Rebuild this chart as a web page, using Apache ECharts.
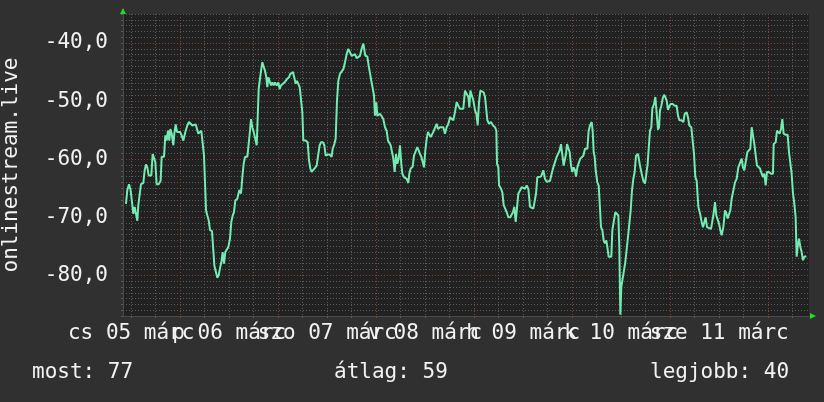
<!DOCTYPE html>
<html>
<head>
<meta charset="utf-8">
<script src="https://cdn.jsdelivr.net/npm/echarts@6/dist/echarts.min.js"></script>
<style>
  html, body { margin: 0; padding: 0; background: #303030; }
  #chart { width: 824px; height: 402px; }
</style>
</head>
<body>
<div id="chart"></div>
<script>
// Signal level over one week, hours counted from 05 March 00:00.
const timeH = [
  10.73, 11.06, 11.47, 11.88, 12.20, 12.53, 12.86, 13.10, 13.51, 13.75,
  14.16, 14.41, 14.98, 15.31, 15.63, 15.96, 16.29, 16.94, 17.26, 17.59,
  17.92, 18.24, 18.73, 19.22, 19.47, 20.04, 20.37, 20.69, 21.02, 21.35,
  21.59, 21.92, 22.33, 22.57, 22.90, 23.22, 23.55, 23.96, 24.37, 24.77,
  25.02, 25.35, 25.75, 26.16, 26.57, 26.98, 27.39, 27.79, 28.20, 28.45,
  28.86, 29.18, 29.51, 29.84, 30.16, 30.33, 30.65, 30.98, 31.31, 31.80,
  32.12, 32.37, 32.69, 33.10, 33.43, 33.75, 34.16, 34.41, 34.73, 35.06,
  35.39, 35.80, 36.20, 36.53, 36.86, 37.18, 37.51, 38.00,
  38.25, 38.49, 38.90, 39.23, 39.55, 39.88, 40.45, 40.86, 41.10, 41.35,
  41.67, 42.00, 42.33, 42.74, 42.98, 43.23, 43.47, 43.80, 44.12, 44.45,
  44.78, 45.10, 45.35, 45.59, 45.92, 46.25, 46.57, 46.90, 47.23, 47.63,
  48.04, 48.37, 48.69, 49.10, 49.51, 49.84, 50.16, 50.65, 50.98, 51.31,
  51.63, 51.96, 52.29, 52.61, 52.94, 53.27, 53.59, 53.92, 54.16, 54.74,
  55.23, 55.55, 55.88, 56.20, 56.53, 57.02, 57.43, 57.84, 58.16, 58.49,
  58.98, 59.31, 59.63, 60.12, 60.61, 61.10, 61.35, 61.76, 62.08, 62.41,
  62.74, 63.14, 63.55, 63.96, 64.37, 64.78, 65.18,
  65.59, 66.00, 66.41, 66.81, 67.22, 67.63, 68.04, 68.45, 68.86, 69.10,
  69.34, 69.83, 70.16, 70.49, 70.81, 71.14, 71.47, 71.71, 72.04, 72.28,
  72.61, 72.94, 73.43, 73.75, 74.16, 74.57, 74.90, 75.22, 75.55, 75.96,
  76.20, 76.53, 76.85, 77.18, 77.51, 77.83, 78.16, 78.41, 78.81, 79.14,
  79.47, 79.88, 80.12, 80.45, 80.94, 81.26, 81.67, 82.08, 82.41, 82.73,
  83.06, 83.39, 83.71, 84.04, 84.37, 84.69, 85.02, 85.35, 85.67, 86.00,
  86.41, 86.81, 87.14, 87.63, 88.04, 88.45, 88.85, 89.26, 89.67, 90.08,
  90.49, 90.90, 91.30, 91.71, 92.12, 92.53, 92.94, 93.35, 93.75,
  94.17, 94.58, 94.82, 95.07, 95.39, 95.80, 96.21, 96.54, 96.86, 97.19,
  97.52, 98.00, 98.33, 98.66, 98.98, 99.23, 99.64, 100.13, 100.62, 101.11,
  101.43, 101.60, 101.92, 102.09, 102.58, 102.90, 103.23, 103.56, 103.96, 104.37,
  104.86, 105.19, 105.51, 105.84, 106.17, 106.49, 106.82, 107.23, 107.64, 108.05,
  108.45, 108.86, 109.27, 109.68, 110.09, 110.49, 110.90, 111.15, 111.47, 111.88,
  112.37, 112.70, 112.94, 113.35, 113.76, 114.17, 114.58, 114.98, 115.39, 115.80,
  116.21, 116.62, 116.94, 117.27, 117.60, 117.92, 118.25, 118.49, 118.74, 119.07,
  119.39, 119.72, 120.04, 120.37, 120.70, 120.94, 121.27, 121.68, 122.00,
  122.41, 122.74, 123.14, 123.72, 124.04, 124.37, 124.78, 125.02, 125.27, 125.51,
  125.76, 126.16, 126.49, 126.82, 127.06, 127.39, 127.72, 128.04, 128.37, 128.61,
  128.94, 129.27, 129.59, 129.84, 130.25, 130.57, 130.90, 131.31, 131.55, 131.80,
  132.04, 132.37, 132.70, 133.02, 133.35, 133.67, 134.00, 134.33, 134.65, 134.98,
  135.31, 135.63, 136.12, 136.45, 136.61, 137.02, 137.43, 137.84, 138.25, 138.49,
  138.74, 139.06, 139.39, 139.63, 140.04, 140.37, 140.70, 141.02, 141.27, 141.51,
  141.84, 142.16, 142.49, 142.82, 143.14, 143.47, 143.80, 144.12, 144.61, 145.10,
  145.59, 145.92, 146.25, 146.74, 147.23, 147.55, 148.04, 148.37, 148.69, 149.18,
  149.51, 149.84, 150.16, 150.49,
  150.90, 151.30, 151.71, 152.04, 152.37, 152.69, 153.02, 153.35, 154.00, 154.32,
  154.57, 154.98, 155.30, 155.63, 155.96, 156.28, 156.61, 157.02, 157.43, 157.75,
  158.08, 158.41, 158.73, 159.06, 159.47, 159.88, 160.28, 160.69, 161.10, 161.51,
  161.83, 162.16, 162.57, 162.90, 163.30, 163.63, 163.96, 164.28, 164.61, 164.94,
  165.26, 165.59, 166.00, 166.41, 166.73, 167.06, 167.39, 167.71, 168.20, 168.69,
  169.18, 169.35, 169.84, 170.16, 170.49, 170.81, 171.14, 171.47, 171.79, 172.28,
  172.77, 173.10, 173.43, 173.75, 174.08, 174.41, 174.73, 174.98, 175.22, 175.55,
  175.88, 176.20, 176.53, 176.86, 177.35
];

const signalDb = [
  -67.7, -65.3, -64.3, -65.4, -65.7, -69.4, -68.2, -69.1, -70.6, -67.9,
  -67.7, -64.3, -64.1, -61.9, -60.9, -61.4, -62.8, -62.8, -59.1, -59.1,
  -60.5, -64.3, -64.3, -63.7, -59.6, -59.6, -55.9, -56.8, -55.1, -56.8,
  -54.8, -55.6, -57.6, -55.6, -54.0, -55.3, -55.6, -55.3, -55.9, -56.8,
  -57.1, -55.1, -54.2, -53.6, -53.8, -54.2, -53.9, -54.0, -53.8, -55.6,
  -55.3, -55.1, -55.3, -59.4, -59.6, -68.8, -69.7, -70.5, -72.2, -72.4,
  -75.7, -78.3, -78.3, -80.4, -80.0, -78.8, -77.4, -76.0, -78.0, -76.0,
  -75.7, -75.1, -73.7, -70.8, -69.7, -69.1, -67.1, -66.8,
  -66.8, -65.3, -65.9, -63.1, -60.8, -59.6, -59.6, -56.8, -55.1, -53.1,
  -54.5, -55.3, -55.6, -57.6, -57.4, -47.9, -47.6, -44.8, -43.3, -43.3,
  -44.8, -45.9, -47.6, -45.9, -45.6, -47.3, -46.8, -47.3, -46.8, -47.3,
  -46.8, -47.9, -47.3, -47.0, -46.8, -46.8, -46.2, -45.9, -45.3, -45.6,
  -45.0, -45.0, -47.0, -46.5, -46.5, -47.6, -47.9, -51.9, -56.8, -56.8,
  -57.1, -60.2, -61.6, -62.2, -61.9, -61.5, -61.1, -59.1, -57.6, -57.1,
  -57.1, -57.6, -59.4, -59.2, -59.2, -59.6, -58.2, -57.4, -56.5, -49.9,
  -46.5, -45.3, -45.0, -44.5, -43.3, -41.9, -41.0,
  -40.7, -42.2, -42.2, -41.9, -42.6, -42.5, -42.2, -41.0, -40.1, -40.2,
  -42.2, -42.3, -43.9, -44.2, -46.5, -46.5, -49.0, -52.5, -50.2, -52.5,
  -52.5, -52.2, -52.7, -53.1, -54.5, -55.1, -56.8, -57.1, -57.6, -57.9,
  -59.9, -62.2, -59.1, -60.8, -59.9, -57.6, -60.8, -62.5, -63.1, -62.8,
  -63.4, -64.1, -62.5, -61.6, -61.3, -59.4, -59.1, -57.9, -57.6, -59.1,
  -59.6, -60.5, -61.4, -58.5, -56.5, -55.3, -55.1, -56.2, -56.2, -55.3,
  -55.1, -53.9, -54.8, -54.5, -54.5, -54.5, -55.6, -54.5, -53.9, -52.8,
  -52.5, -53.3, -51.9, -50.2, -50.8, -51.3, -51.3, -51.3, -48.2,
  -48.5, -49.3, -51.1, -48.2, -48.2, -49.9, -51.6, -52.2, -54.2, -50.2,
  -48.2, -48.1, -48.5, -49.3, -49.6, -53.3, -53.9, -53.6, -54.2, -54.5,
  -55.1, -60.8, -61.4, -64.5, -65.1, -65.7, -67.9, -68.2, -69.1, -70.0,
  -70.0, -69.7, -69.1, -68.2, -70.8, -70.8, -65.9, -65.4, -64.8, -64.5,
  -65.1, -64.5, -65.1, -68.2, -68.2, -68.5, -68.5, -65.9, -63.1, -63.0,
  -63.0, -62.8, -61.9, -63.4, -63.9, -63.9, -63.7, -62.5, -61.4, -60.5,
  -59.6, -59.4, -58.5, -57.4, -57.4, -61.1, -61.4, -59.1, -57.4, -57.6,
  -58.8, -61.1, -62.2, -61.4, -61.9, -63.0, -61.4, -60.5, -59.9,
  -60.2, -59.4, -58.2, -58.2, -55.1, -54.2, -53.6, -55.1, -58.8, -59.6,
  -61.9, -64.0, -64.5, -68.5, -71.7, -72.2, -74.0, -74.5, -74.0, -75.1,
  -76.8, -77.1, -76.8, -72.2, -71.9, -69.1, -69.1, -69.7, -75.1, -86.8,
  -82.0, -81.7, -79.1, -77.7, -77.4, -73.4, -71.1, -68.8, -65.4, -63.4,
  -62.2, -59.4, -59.1, -59.4, -61.1, -62.5, -63.7, -64.2, -64.5, -60.8,
  -58.2, -55.1, -54.5, -51.3, -50.5, -49.3, -49.2, -54.9, -54.5, -51.6,
  -50.8, -49.6, -48.9, -49.3, -49.9, -51.5, -50.9, -50.5, -50.5, -50.8,
  -50.8, -52.5, -53.3, -53.3, -53.6, -52.2, -51.9, -52.8, -54.2, -54.5,
  -56.8, -59.1, -63.1, -63.7,
  -68.2, -69.3, -70.8, -71.7, -71.7, -70.0, -71.7, -72.0, -72.0, -72.0,
  -69.7, -67.4, -69.7, -70.0, -71.1, -72.2, -73.1, -71.7, -68.8, -69.3,
  -70.2, -70.2, -68.8, -66.8, -66.8, -64.0, -63.4, -61.4, -61.1, -59.9,
  -61.4, -61.9, -61.9, -58.8, -58.8, -58.2, -54.5, -54.8, -57.4, -57.6,
  -61.1, -61.4, -61.6, -62.5, -63.1, -62.5, -64.5, -62.2, -62.2, -62.5,
  -62.5, -57.4, -57.1, -55.1, -55.1, -55.6, -54.8, -53.1, -55.6, -55.8,
  -55.8, -58.8, -59.1, -62.5, -65.9, -67.7, -70.0, -76.8, -75.1, -73.7,
  -75.1, -76.0, -77.4, -76.8, -76.7
];

// Day labels, centred on noon of each day
const dayNoonH = [12, 36, 60, 84, 108, 132, 156];
const dayLabels = ['cs 05 márc', 'p 06 márc', 'szo 07 márc', 'v 08 márc', 'h 09 márc', 'k 10 márc', 'sze 11 márc'];

// Summary line under the graph
const summaryNames = ['most', 'átlag', 'legjobb'];
const summaryValues = [77, 59, 40];

const X_MIN = 10, X_MAX = 178;
const Y_MIN = -87, Y_MAX = -35;

const FONT = '"DejaVu Sans Mono", monospace';
const TEXT = '#f2f2f2';
const MINOR = '#5c5c5c';
const MAJOR = '#86403f';
const ARROW = '#22dd22';

// Hourly / unit categories used only to place grid lines, ticks and labels
const hourCats = [];
for (let h = X_MIN; h <= X_MAX; h++) hourCats.push(String(h));
const dbCats = [];
for (let d = Y_MIN; d <= Y_MAX; d++) dbCats.push(String(d));

const isMinorHour = (i, v) => { const h = Number(v); return h % 6 === 0 && h % 24 !== 0; };
const isDayStart = (i, v) => Number(v) % 24 === 0;
const isDecade = (i, v) => Number(v) % 10 === 0;
// Day labels are long enough to collide with their neighbours, so alternate
// days go on two separate label axes and every one of them is still drawn.
const noonOfDay = (parity) => (i, v) => {
  const k = dayNoonH.indexOf(Number(v));
  return k >= 0 && k % 2 === parity;
};
const dayLabelText = v => { const k = dayNoonH.indexOf(Number(v)); return k < 0 ? '' : dayLabels[k]; };

const labelAxis = (parity) => ({
  type: 'category', data: hourCats, boundaryGap: false, position: 'bottom',
  axisLine: { show: false }, axisTick: { show: false }, splitLine: { show: false },
  axisLabel: {
    show: true, interval: noonOfDay(parity), hideOverlap: false, margin: 7,
    showMinLabel: true, showMaxLabel: true,
    color: TEXT, fontFamily: FONT, fontSize: 21,
    formatter: dayLabelText
  }
});

const chart = echarts.init(document.getElementById('chart'), null, { renderer: 'canvas' });

chart.setOption({
  backgroundColor: '#303030',
  animation: false,
  grid: {
    left: 123, right: 15, top: 14, bottom: 86,
    outerBoundsMode: 'none', containLabel: false,
    show: true, backgroundColor: '#212121', borderWidth: 0
  },
  xAxis: [
    {
      type: 'value', min: X_MIN, max: X_MAX, position: 'bottom',
      axisLine: { show: true, lineStyle: { color: '#4a4a4a', width: 1 } },
      axisTick: { show: false }, axisLabel: { show: false }, splitLine: { show: false }
    },
    {
      type: 'category', data: hourCats, boundaryGap: false, position: 'bottom',
      axisLine: { show: false },
      axisTick: { show: true, interval: isMinorHour, length: 2, lineStyle: { color: MINOR } },
      axisLabel: { show: false },
      splitLine: { show: true, interval: isMinorHour, lineStyle: { color: MINOR, type: [1, 2], width: 1 } }
    },
    {
      type: 'category', data: hourCats, boundaryGap: false, position: 'bottom',
      axisLine: {
        show: true, symbol: ['none', 'triangle'], symbolSize: [6, 6], symbolOffset: [0, 4],
        lineStyle: { color: ARROW, opacity: 0 }
      },
      axisTick: { show: true, interval: isDayStart, length: 2, lineStyle: { color: MAJOR } },
      axisLabel: { show: false },
      splitLine: { show: true, interval: isDayStart, lineStyle: { color: MAJOR, type: [1, 2], width: 1 } }
    },
    labelAxis(0),
    labelAxis(1)
  ],
  yAxis: [
    {
      type: 'value', min: Y_MIN, max: Y_MAX, interval: 1, position: 'left',
      name: 'onlinestream.live', nameLocation: 'middle', nameGap: 101, nameRotate: 90,
      nameTextStyle: { color: TEXT, fontFamily: FONT, fontSize: 21 },
      axisLine: { show: true, lineStyle: { color: '#4a4a4a', width: 1 } },
      axisTick: { show: true, length: 2, lineStyle: { color: MINOR } },
      axisLabel: { show: false },
      splitLine: { show: true, lineStyle: { color: MINOR, type: [1, 2], width: 1 } }
    },
    {
      type: 'category', data: dbCats, boundaryGap: false, position: 'left',
      axisLine: {
        show: true, symbol: ['none', 'triangle'], symbolSize: [6, 6], symbolOffset: [0, 3],
        lineStyle: { color: ARROW, opacity: 0 }
      },
      axisTick: { show: true, interval: isDecade, length: 2, lineStyle: { color: MAJOR } },
      axisLabel: {
        show: true, interval: isDecade, margin: 15,
        showMinLabel: true, showMaxLabel: true,
        color: TEXT, fontFamily: FONT, fontSize: 21,
        formatter: v => Number(v).toFixed(1).replace('.', ',')
      },
      splitLine: { show: true, interval: isDecade, lineStyle: { color: MAJOR, type: [1, 2], width: 1 } }
    }
  ],
  series: [{
    type: 'line',
    xAxisIndex: 0, yAxisIndex: 0,
    data: timeH.map((t, i) => [t, signalDb[i]]),
    showSymbol: false,
    lineStyle: { color: '#72ecb2', width: 2 },
    z: 5
  }],
  graphic: summaryNames.map((n, i) => ({
    type: 'text',
    left: [32, 334, 650][i],
    top: 362,
    style: { text: n + ': ' + summaryValues[i], fill: TEXT, font: '21px ' + FONT }
  }))
});
</script>
</body>
</html>
